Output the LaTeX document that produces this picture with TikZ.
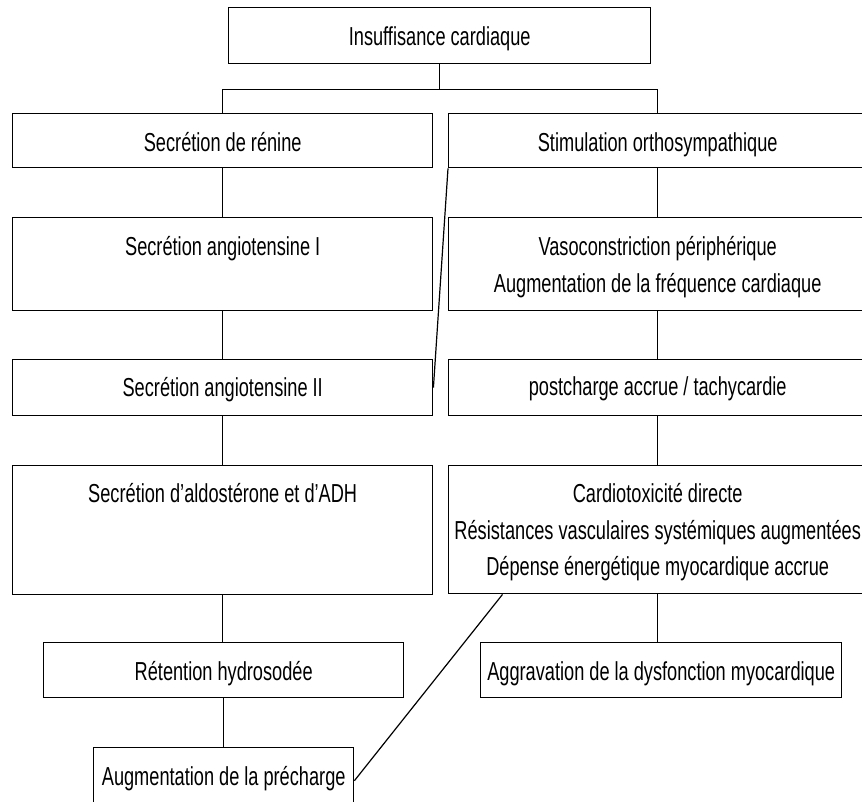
\documentclass[tikz,border=0pt]{standalone}
\usepackage{fontspec}
\setmainfont{Liberation Sans}[FakeStretch=0.70]
\usetikzlibrary{calc}

\begin{document}
\begin{tikzpicture}[x=1pt, y=-1pt,
  box/.style={draw=black, line width=1.4pt, inner sep=0pt, anchor=north west,
    align=flush center, text width=#1, font=\fontsize{26}{36.5}\selectfont,
    execute at begin node={\spaceskip=5pt\relax}},
  link/.style={draw=black, line width=1.2pt}
    ]
    \useasboundingbox (0,0) rectangle (862,802);
    \clip (0,0) rectangle (862,802);

    % Blocchi
    \node[box=422pt, text height=38pt, text depth=18pt] (insuff) at (228,7) {Insuffisance cardiaque};

    \node[box=420pt, text height=38pt, text depth=16pt] (renine) at (12,113) {Secrétion de rénine};
    \node[box=418pt, text height=38pt, text depth=16pt] (ortho) at (448,113) {Stimulation orthosympathique};

    \node[box=420pt, text height=38pt, text depth=55pt] (angioI) at (12,217) {Secrétion angiotensine I};
    \node[box=418pt, text height=38pt, text depth=55pt] (vaso) at (448,217)
      {Vasoconstriction périphérique\\Augmentation de la fréquence cardiaque};

    \node[box=420pt, text height=37pt, text depth=19pt] (angioII) at (12,359) {Secrétion angiotensine II};
    \node[box=418pt, text height=36pt, text depth=20pt] (postcharge) at (448,359) {postcharge accrue / tachycardie};

    \node[box=420pt, text height=37pt, text depth=92pt] (aldo) at (12,465) {Secrétion d'aldostérone et d'ADH};
    \node[box=418pt, text height=37pt, text depth=91pt] (cardio) at (448,465)
      {Cardiotoxicité directe\\Résistances vasculaires systémiques augmentées\\Dépense énergétique myocardique accrue};

    \node[box=360pt, text height=38pt, text depth=17pt] (retention) at (43,642) {Rétention hydrosodée};
    \node[box=361pt, text height=38pt, text depth=17pt] (aggrav) at (480,642) {Aggravation de la dysfonction myocardique};

    \node[box=260pt, text height=38pt, text depth=20pt] (precharge) at (93,747) {Augmentation de la précharge};

    % Collegamenti
    \coordinate (nodo) at ([yshift=-25pt]insuff.south);
    \draw[link] (insuff.south) -- (nodo);
    \draw[link] (renine.north) |- (nodo) -| (ortho.north);

    \draw[link] (renine.south) -- (angioI.north);
    \draw[link] (angioI.south) -- (angioII.north);
    \draw[link] (angioII.south) -- (aldo.north);
    \draw[link] (aldo.south) -- (aldo.south |- retention.north);
    \draw[link] (retention.south) -- (retention.south |- precharge.north);

    \draw[link] (ortho.south) -- (vaso.north);
    \draw[link] (vaso.south) -- (postcharge.north);
    \draw[link] (postcharge.south) -- (cardio.north);
    \draw[link] (cardio.south) -- (cardio.south |- aggrav.north);

    % Diagonali
    \draw[link] (ortho.south west) -- (angioII.east);
    \draw[link] ($(cardio.south west)!0.13!(cardio.south east)$) -- ([yshift=-4pt]precharge.east);
    \end{tikzpicture}
\end{document}
